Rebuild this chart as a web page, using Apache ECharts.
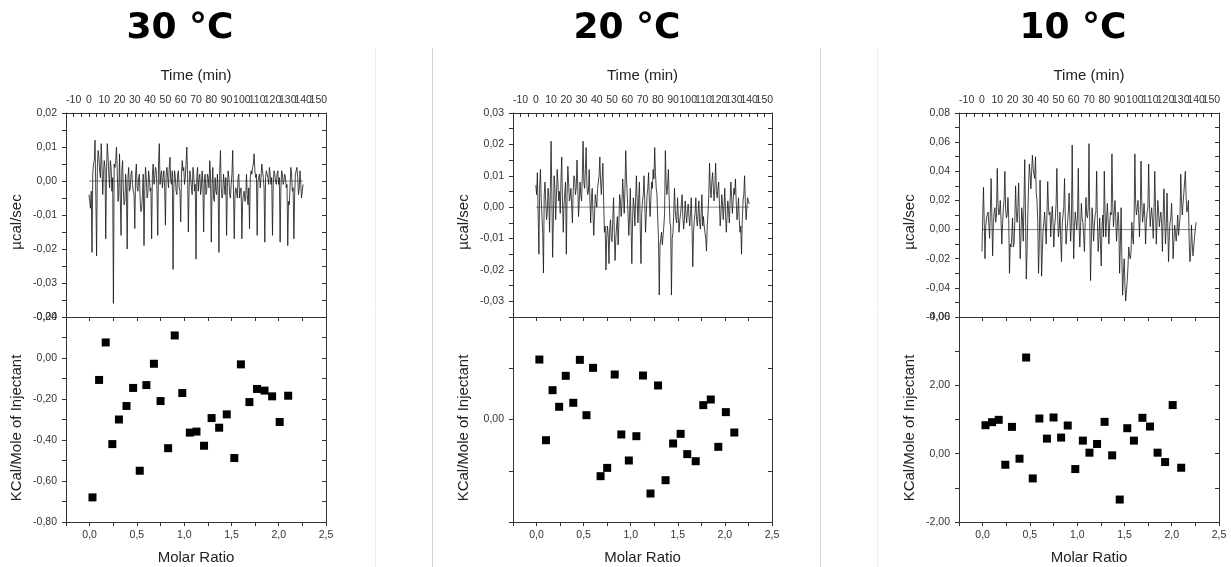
<!DOCTYPE html>
<html><head><meta charset="utf-8">
<script src="https://cdn.jsdelivr.net/npm/echarts@6/dist/echarts.min.js"></script>
<style>html,body{margin:0;padding:0;background:#fff}#c{width:1231px;height:567px}</style>
</head><body><div id="c"></div><script>
// ---------- data ----------
const panelTitles = ['30 °C', '20 °C', '10 °C'];
// raw ITC traces, sampled at whole minutes and at half minutes
const traceTime = [0,1,2,3,4,5,6,7,8,9,10,11,12,13,14,15,16,17,18,19,20,21,22,23,24,25,26,27,28,29,30,31,32,33,34,35,36,37,38,39,40,41,42,43,44,45,46,47,48,49,50,51,52,53,54,55,56,57,58,59,60,61,62,63,64,65,66,67,68,69,70,71,72,73,74,75,76,77,78,79,80,81,82,83,84,85,86,87,88,89,90,91,92,93,94,95,96,97,98,99,100,101,102,103,104,105,106,107,108,109,110,111,112,113,114,115,116,117,118,119,120,121,122,123,124,125,126,127,128,129,130,131,132,133,134,135,136,137,138,139,140];
const traceTimeHalf = [0.5,1.5,2.5,3.5,4.5,5.5,6.5,7.5,8.5,9.5,10.5,11.5,12.5,13.5,14.5,15.5,16.5,17.5,18.5,19.5,20.5,21.5,22.5,23.5,24.5,25.5,26.5,27.5,28.5,29.5,30.5,31.5,32.5,33.5,34.5,35.5,36.5,37.5,38.5,39.5,40.5,41.5,42.5,43.5,44.5,45.5,46.5,47.5,48.5,49.5,50.5,51.5,52.5,53.5,54.5,55.5,56.5,57.5,58.5,59.5,60.5,61.5,62.5,63.5,64.5,65.5,66.5,67.5,68.5,69.5,70.5,71.5,72.5,73.5,74.5,75.5,76.5,77.5,78.5,79.5,80.5,81.5,82.5,83.5,84.5,85.5,86.5,87.5,88.5,89.5,90.5,91.5,92.5,93.5,94.5,95.5,96.5,97.5,98.5,99.5,100.5,101.5,102.5,103.5,104.5,105.5,106.5,107.5,108.5,109.5,110.5,111.5,112.5,113.5,114.5,115.5,116.5,117.5,118.5,119.5,120.5,121.5,122.5,123.5,124.5,125.5,126.5,127.5,128.5,129.5,130.5,131.5,132.5,133.5,134.5,135.5,136.5,137.5,138.5,139.5];
const trace30 = [
-0.004,-0.008,-0.021,0.005,0.012,-0.022,0.009,0.003,0.011,-0.004,
0.006,-0.017,0.011,0.002,0.006,-0.003,-0.036,0.004,0.010,-0.006,
0.008,-0.016,0.006,-0.007,0.002,-0.020,0.004,-0.002,0.003,-0.003,
-0.014,0.005,-0.003,0.002,-0.009,-0.004,-0.019,0.004,-0.005,0.003,
-0.003,-0.017,0.005,0.001,0.003,-0.016,0.011,0.002,-0.002,0.003,
-0.013,0.004,-0.002,0.007,-0.001,-0.026,0.003,-0.003,0.002,-0.002,
-0.012,0.006,0.004,0.001,0.010,-0.015,0.003,-0.002,0.004,-0.003,
-0.023,0.004,0.001,-0.004,0.003,-0.015,0.002,-0.003,0.001,0.006,
-0.018,0.004,-0.006,-0.003,0.002,-0.021,0.009,-0.005,0.002,-0.004,
-0.016,0.003,-0.004,-0.001,0.009,-0.017,-0.002,-0.005,0.002,-0.003,
-0.017,-0.004,-0.006,0.002,-0.007,-0.014,0.003,0.004,0.008,0.001,
-0.016,0.001,-0.002,0.005,0.001,-0.018,0.003,0.001,0.004,-0.001,
-0.016,0.003,0.000,0.002,-0.001,-0.018,0.003,-0.001,0.002,-0.002,
-0.019,-0.007,0.004,-0.003,-0.017,0.002,0.004,-0.004,0.003,-0.005,
-0.001];
const trace30Half = [
-0.006,-0.003,0.002,0.006,-0.004,0.004,0.007,0.001,0.005,0.002,
0.004,0.003,0.007,-0.002,0.004,0.001,0.005,0.006,0.003,-0.004,
-0.005,0.003,-0.003,-0.006,-0.002,0.001,-0.003,0.002,-0.001,-0.004,
0.002,-0.002,0.001,-0.006,-0.008,0.002,-0.003,0.001,-0.004,0.001,
-0.002,0.002,-0.001,0.004,-0.003,0.005,-0.001,0.003,0.001,-0.002,
0.002,0.001,0.004,0.000,0.003,-0.002,0.001,-0.004,0.003,-0.003,
0.002,0.003,-0.001,0.005,0.002,-0.002,0.001,-0.004,0.002,-0.001,
0.001,-0.003,0.002,-0.002,-0.001,0.001,-0.004,0.002,-0.002,0.002,
-0.002,-0.005,0.001,-0.004,-0.003,0.003,-0.002,-0.004,-0.001,0.001,
-0.002,0.001,-0.005,0.002,-0.003,-0.004,-0.003,0.001,-0.005,-0.002,
-0.006,-0.003,-0.005,-0.004,-0.002,0.001,0.002,0.005,0.003,0.002,
0.000,0.002,0.001,0.003,-0.002,0.001,0.002,-0.001,0.002,0.001,
-0.001,0.002,-0.001,0.003,0.001,-0.002,0.002,0.000,0.001,-0.001,
-0.006,-0.002,0.002,-0.002,-0.004,0.003,0.001,-0.002,-0.001,-0.003];
const trace20 = [
0.007,0.011,-0.015,0.012,-0.003,-0.021,0.008,-0.004,0.006,-0.008,
0.021,-0.016,0.010,-0.004,0.012,0.002,-0.002,0.016,-0.008,0.005,
-0.015,0.013,0.002,0.006,-0.005,0.010,0.004,0.015,-0.003,0.008,
0.002,0.021,0.006,0.019,0.004,0.012,-0.005,0.006,-0.009,0.004,
0.000,0.008,0.016,0.004,0.014,-0.008,-0.020,-0.006,-0.018,-0.004,
-0.011,0.003,-0.017,-0.006,-0.012,0.004,-0.003,0.009,-0.002,0.018,
0.004,-0.009,0.006,-0.018,0.003,-0.006,0.010,-0.005,0.008,-0.018,
0.002,0.010,-0.008,0.004,0.011,-0.003,0.008,0.012,0.019,0.006,
-0.004,-0.028,-0.010,-0.012,-0.006,0.018,0.004,0.012,-0.005,-0.028,
-0.008,0.006,-0.004,0.003,-0.008,-0.002,0.004,-0.007,0.002,-0.005,
0.001,-0.006,0.003,-0.019,-0.004,0.003,-0.006,0.002,-0.007,0.004,
-0.003,-0.008,-0.014,-0.002,0.014,0.003,0.011,0.002,0.014,0.003,
0.008,-0.006,0.004,-0.004,0.006,-0.008,0.002,-0.005,0.008,-0.002,
0.006,0.009,-0.004,0.003,-0.008,-0.015,0.002,0.010,-0.004,0.003,
0.001];
const trace20Half = [
0.004,-0.002,0.006,0.003,-0.008,0.004,0.002,-0.002,0.003,0.005,
0.004,-0.004,0.006,0.003,0.008,0.005,0.009,0.002,0.001,0.008,
0.004,0.008,0.003,0.001,0.005,0.009,0.006,0.007,0.002,0.004,
0.010,0.008,0.012,0.007,0.005,0.002,0.003,-0.002,-0.003,0.002,
0.006,0.010,0.008,0.009,0.002,-0.006,-0.010,-0.009,-0.007,-0.010,
-0.004,-0.008,-0.010,-0.003,-0.005,0.002,0.001,0.004,0.006,0.009,
-0.002,-0.003,-0.006,-0.004,0.000,0.003,0.002,0.003,-0.006,-0.002,
0.004,0.001,-0.002,0.006,0.002,0.003,0.006,0.009,0.011,0.004,
-0.010,-0.012,-0.008,-0.009,-0.002,0.008,0.007,0.003,-0.006,-0.010,
-0.002,-0.001,-0.005,-0.003,-0.004,0.001,-0.003,-0.004,-0.002,-0.001,
-0.003,-0.002,-0.006,-0.008,-0.002,-0.004,-0.002,-0.005,-0.002,-0.006,
-0.006,-0.010,-0.006,0.004,0.006,0.008,0.006,0.007,0.005,0.006,
0.001,-0.002,0.001,0.000,-0.002,-0.003,-0.001,0.002,0.003,0.002,
0.004,0.002,-0.002,-0.004,-0.006,-0.004,0.004,0.002,0.000,0.002];
const trace10 = [
-0.015,0.029,-0.020,0.008,0.012,-0.006,0.035,-0.018,0.012,0.005,
0.042,0.010,0.020,-0.010,0.015,0.040,0.008,0.022,-0.030,-0.012,
0.008,-0.010,0.030,0.005,0.032,-0.020,0.015,-0.008,0.048,-0.034,
0.010,0.045,0.028,0.051,0.038,0.050,0.020,-0.030,0.034,-0.032,
0.000,0.012,-0.010,0.033,0.010,-0.005,0.016,-0.012,0.008,0.042,
-0.005,0.012,-0.022,0.010,0.035,-0.010,0.005,0.025,-0.008,0.058,
-0.020,0.012,0.000,0.042,-0.012,0.018,0.005,-0.015,0.022,0.008,
0.059,-0.035,0.015,-0.008,0.010,0.040,-0.015,0.008,-0.025,0.010,
0.040,-0.005,0.018,-0.010,0.012,0.052,0.002,0.020,-0.008,0.012,
-0.030,0.015,-0.045,-0.020,-0.049,-0.035,-0.012,-0.020,0.005,-0.010,
0.052,0.010,0.020,-0.005,0.047,0.005,0.018,-0.010,0.012,0.045,
0.002,0.015,-0.006,0.040,-0.010,0.020,0.002,0.012,-0.015,0.028,
-0.010,0.025,-0.022,0.005,0.018,-0.020,0.003,-0.008,0.010,-0.005,
0.038,0.010,0.025,0.040,0.012,0.020,-0.022,0.003,-0.018,-0.005,
0.005];
const trace10Half = [
0.008,0.005,0.002,0.010,0.004,0.012,0.008,0.005,0.015,0.010,
0.018,0.012,0.006,0.004,0.020,0.014,0.010,0.008,-0.010,-0.005,
-0.012,0.006,0.012,0.015,0.004,-0.005,0.008,0.020,0.010,-0.015,
0.030,0.038,0.040,0.042,0.035,0.025,0.005,-0.010,0.005,-0.015,
0.005,0.002,0.010,0.015,0.012,0.008,0.004,0.002,0.018,0.010,
0.000,-0.008,0.004,0.015,0.008,-0.002,0.012,0.008,0.004,0.010,
0.002,0.006,0.010,0.004,0.002,0.008,-0.004,0.005,0.010,0.015,
0.005,-0.010,0.005,0.002,0.012,0.006,-0.005,-0.010,0.002,-0.005,
0.012,0.008,0.006,0.004,0.010,0.018,0.012,0.008,0.002,0.004,
-0.010,-0.020,-0.030,-0.038,-0.042,-0.025,-0.018,-0.015,-0.005,0.008,
0.018,0.015,0.010,0.012,0.020,0.010,0.008,0.005,0.015,0.018,
0.010,0.006,0.012,0.015,0.005,0.012,0.008,0.004,0.010,0.008,
0.002,0.004,-0.005,0.008,0.002,-0.008,-0.002,0.000,-0.004,0.008,
0.020,0.018,0.025,0.022,0.015,-0.008,-0.015,-0.010,-0.012,0.000];
const baselineTime = [0, 140];

const molarRatio = [0.03,0.10,0.17,0.24,0.31,0.39,0.46,0.53,0.60,0.68,0.75,0.83,0.90,0.98,1.06,1.13,1.21,1.29,1.37,1.45,1.53,1.60,1.69,1.77,1.85,1.93,2.01,2.10];
const heat30 = [-0.68,-0.107,0.076,-0.42,-0.30,-0.234,-0.146,-0.55,-0.132,-0.028,-0.21,-0.44,0.11,-0.171,-0.364,-0.359,-0.428,-0.293,-0.34,-0.275,-0.488,-0.031,-0.215,-0.151,-0.159,-0.187,-0.312,-0.184];
const heat20 = [0.585,-0.202,0.286,0.124,0.426,0.163,0.582,0.042,0.504,-0.553,-0.472,0.439,-0.146,-0.400,-0.163,0.429,-0.722,0.332,-0.592,-0.234,-0.140,-0.338,-0.407,0.140,0.195,-0.267,0.072,-0.127];
const heat10 = [0.833,0.922,0.99,-0.324,0.784,-0.147,2.814,-0.725,1.029,0.441,1.059,0.471,0.824,-0.451,0.382,0.029,0.284,0.931,-0.049,-1.343,0.745,0.382,1.049,0.794,0.029,-0.245,1.422,-0.412];

// tick labels
const timeTickLabels = [-10,0,10,20,30,40,50,60,70,80,90,100,110,120,130,140,150];
const molarTickLabels = [0,0.5,1,1.5,2,2.5];
const rawTickLabels30 = [-0.04,-0.03,-0.02,-0.01,0,0.01,0.02];
const rawTickLabels20 = [-0.03,-0.02,-0.01,0,0.01,0.02,0.03];
const rawTickLabels10 = [-0.06,-0.04,-0.02,0,0.02,0.04,0.06,0.08];
const heatTickLabels30 = [-0.8,-0.6,-0.4,-0.2,0,0.2];
const heatTickLabels20 = [0];
const heatTickLabels10 = [-2,0,2,4];

// ---------- layout ----------
const panels = [
  {left: 66, width: 260, titleX: 180, trace: trace30, traceHalf: trace30Half, heat: heat30,
   rawMin: -0.04, rawMax: 0.02, rawStep: 0.005, rawLabels: rawTickLabels30,
   heatMin: -0.8, heatMax: 0.2, heatStep: 0.1, heatLabels: heatTickLabels30},
  {left: 513, width: 259, titleX: 627, trace: trace20, traceHalf: trace20Half, heat: heat20,
   rawMin: -0.035, rawMax: 0.03, rawStep: 0.005, rawLabels: rawTickLabels20,
   heatMin: -1, heatMax: 1, heatStep: 0.5, heatLabels: heatTickLabels20},
  {left: 959, width: 260, titleX: 1073, trace: trace10, traceHalf: trace10Half, heat: heat10,
   rawMin: -0.06, rawMax: 0.08, rawStep: 0.01, rawLabels: rawTickLabels10,
   heatMin: -2, heatMax: 4, heatStep: 1, heatLabels: heatTickLabels10}
];
const TOP = 113, MID = 317, BOT = 522;
const FONT = '"Liberation Sans", Arial, sans-serif';
const AX = '#333';

function steps(a, b, s) {
  const out = [];
  const n = Math.round((b - a) / s);
  for (let i = 0; i <= n; i++) out.push(Math.round((a + i * s) * 1e6) / 1e6);
  return out;
}
function fmt(dec) {
  return v => { if (Math.abs(v) < 1e-9) v = 0; return v.toFixed(dec).replace('.', ','); };
}
const lblStyle = {color: AX, fontSize: 10.5, fontFamily: FONT, hideOverlap: false};
const lineAx = {show: true, onZero: false, lineStyle: {color: AX, width: 1}};
// the crowded time labels are split over two overlaid axes so none is dropped
const timeLabelsA = timeTickLabels.filter((v, k) => k % 2 === 0);
const timeLabelsB = timeTickLabels.filter((v, k) => k % 2 === 1);

const grid = [], xAxis = [], yAxis = [], series = [], graphic = [];
panels.forEach((p, i) => {
  grid.push({left: p.left, width: p.width, top: TOP, height: MID - TOP, outerBoundsMode: 'none'});
  grid.push({left: p.left, width: p.width, top: MID, height: BOT - MID, outerBoundsMode: 'none'});
  const gT = 2 * i, gB = 2 * i + 1;
  // x axes
  xAxis.push({type: 'value', gridIndex: gT, position: 'top', min: -15, max: 155,
    axisLine: lineAx, splitLine: {show: false},
    axisTick: {show: true, inside: true, length: 4, lineStyle: {color: AX}, customValues: steps(-10, 150, 5)},
    axisLabel: Object.assign({margin: 7, customValues: timeLabelsA, formatter: v => String(v)}, lblStyle)});
  xAxis.push({type: 'value', gridIndex: gT, position: 'top', min: -15, max: 155,
    axisLine: {show: false, onZero: false}, splitLine: {show: false}, axisTick: {show: false},
    axisLabel: Object.assign({margin: 7, customValues: timeLabelsB, formatter: v => String(v)}, lblStyle)});
  xAxis.push({type: 'value', gridIndex: gB, position: 'bottom', min: -0.25, max: 2.5,
    axisLine: lineAx, splitLine: {show: false},
    axisTick: {show: true, inside: false, length: 4, lineStyle: {color: AX}, customValues: steps(-0.25, 2.5, 0.25)},
    axisLabel: Object.assign({margin: 8, customValues: molarTickLabels, formatter: fmt(1)}, lblStyle)});
  xAxis.push({type: 'value', gridIndex: gB, position: 'top', min: -0.25, max: 2.5,
    axisLine: lineAx, splitLine: {show: false},
    axisTick: {show: true, inside: true, length: 4, lineStyle: {color: AX}, customValues: steps(-0.25, 2.5, 0.25)},
    axisLabel: {show: false}});
  // y axes
  yAxis.push({type: 'value', gridIndex: gT, position: 'left', min: p.rawMin, max: p.rawMax,
    axisLine: lineAx, splitLine: {show: false},
    axisTick: {show: true, inside: false, length: 4, lineStyle: {color: AX}, customValues: steps(p.rawMin, p.rawMax, p.rawStep)},
    axisLabel: Object.assign({margin: 9, customValues: p.rawLabels, formatter: fmt(2)}, lblStyle)});
  yAxis.push({type: 'value', gridIndex: gT, position: 'right', min: p.rawMin, max: p.rawMax,
    axisLine: lineAx, splitLine: {show: false},
    axisTick: {show: true, inside: true, length: 4, lineStyle: {color: AX}, customValues: steps(p.rawMin, p.rawMax, p.rawStep)},
    axisLabel: {show: false}});
  yAxis.push({type: 'value', gridIndex: gB, position: 'left', min: p.heatMin, max: p.heatMax,
    axisLine: lineAx, splitLine: {show: false},
    axisTick: {show: true, inside: false, length: 4, lineStyle: {color: AX}, customValues: steps(p.heatMin, p.heatMax, p.heatStep)},
    axisLabel: Object.assign({margin: 9, customValues: p.heatLabels, formatter: fmt(2)}, lblStyle)});
  yAxis.push({type: 'value', gridIndex: gB, position: 'right', min: p.heatMin, max: p.heatMax,
    axisLine: lineAx, splitLine: {show: false},
    axisTick: {show: true, inside: true, length: 4, lineStyle: {color: AX}, customValues: steps(p.heatMin, p.heatMax, p.heatStep)},
    axisLabel: {show: false}});
  // series
  const traceData = traceTime.map((t, k) => [t, p.trace[k]])
    .concat(traceTimeHalf.map((t, k) => [t, p.traceHalf[k]]))
    .sort((a, b) => a[0] - b[0]);
  series.push({type: 'line', xAxisIndex: 4 * i, yAxisIndex: 4 * i, silent: true,
    data: baselineTime.map(t => [t, 0]), showSymbol: false, symbol: 'none',
    lineStyle: {color: '#666', width: 0.8}});
  series.push({type: 'line', xAxisIndex: 4 * i, yAxisIndex: 4 * i, silent: true,
    data: traceData, showSymbol: false, symbol: 'none',
    lineStyle: {color: '#151515', width: 0.8}});
  series.push({type: 'scatter', xAxisIndex: 4 * i + 2, yAxisIndex: 4 * i + 2,
    data: molarRatio.map((m, k) => [m, p.heat[k]]), symbol: 'rect', symbolSize: 8,
    itemStyle: {color: '#000', opacity: 1}});
  // texts
  const cx = p.left + p.width / 2;
  graphic.push({type: 'text', x: p.titleX, y: 29, style: {text: panelTitles[i], font: 'bold 36px "DejaVu Sans", Verdana, sans-serif', fill: '#000', textAlign: 'center', textVerticalAlign: 'middle'}});
  graphic.push({type: 'text', x: cx, y: 76, style: {text: 'Time (min)', font: '15px ' + FONT, fill: '#222', textAlign: 'center', textVerticalAlign: 'middle'}});
  graphic.push({type: 'text', x: cx, y: 558, style: {text: 'Molar Ratio', font: '15px ' + FONT, fill: '#222', textAlign: 'center', textVerticalAlign: 'middle'}});
  graphic.push({type: 'text', x: p.left - 49, y: 222, rotation: Math.PI / 2, style: {text: 'µcal/sec', font: '15px ' + FONT, fill: '#222', textAlign: 'center', textVerticalAlign: 'middle'}});
  graphic.push({type: 'text', x: p.left - 49, y: 428, rotation: Math.PI / 2, style: {text: 'KCal/Mole of Injectant', font: '15px ' + FONT, fill: '#222', textAlign: 'center', textVerticalAlign: 'middle'}});
});
// separators
[[375, '#ececec'], [432, '#d4d4d4'], [820, '#d4d4d4'], [877, '#ececec']].forEach(([x, c]) => {
  graphic.push({type: 'line', shape: {x1: x + 0.5, y1: 48, x2: x + 0.5, y2: 567}, style: {stroke: c, lineWidth: 1}, silent: true});
});

const chart = echarts.init(document.getElementById('c'), null, {renderer: 'canvas'});
chart.setOption({animation: false, backgroundColor: '#fff', grid, xAxis, yAxis, series, graphic});
</script></body></html>
